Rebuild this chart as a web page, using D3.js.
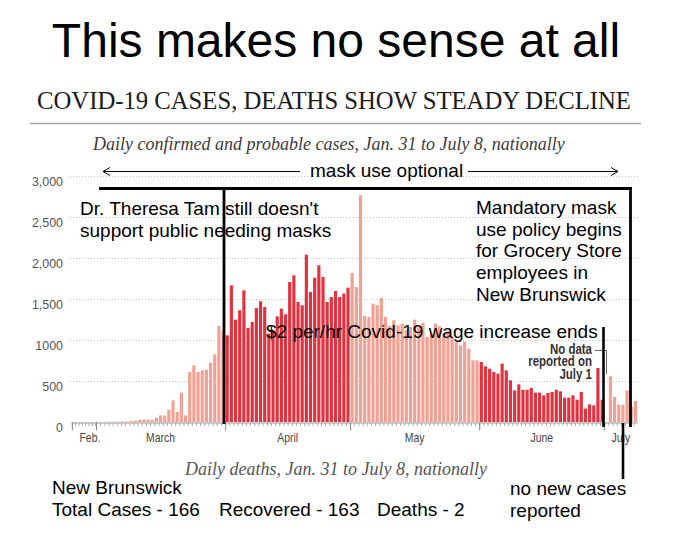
<!DOCTYPE html>
<html><head><meta charset="utf-8">
<script src="https://cdn.jsdelivr.net/npm/d3@7"></script>
<style>
html,body{margin:0;padding:0;background:#fff;}
svg{display:block;}
</style></head>
<body>
<svg id="c" width="677" height="551"></svg>
<script>
// ---- data (daily confirmed + probable cases, Canada) ----
const seriesStart = "2020-01-31";
const febCases = [0,0,0,0,0,0,0,0,0,0,0,0,0,0,0,0,0,0,0,0,0,0,0,0,0,0,0,0,0,0]; // Jan 31 - Feb 29
const marchCases = [2,1,3,3,4,5,8,6,10,15,25,28,28,25,50,80,80,150,264,122,358,81,610,691,610,630,638,724,825,1171,1110];
const aprilCases = [1057,1667,1248,1362,1606,1146,1220,1390,1472,1402,1077,1126,1289,1382,1313,1707,1789,1463,1423,2041,1585,1760,1911,1768,1463,1524,1598,1524,1565,1638];
const mayCases = [1817,1646,2764,1293,1280,1443,1423,1512,1280,1171,1240,1179,1199,1118,1159,1248,1171,1211,1037,1077,1199,1167,1077,1118,1037,976,935,976,894,752,752];
const juneCases = [732,679,650,610,589,711,630,508,386,459,394,394,415,358,358,325,354,366,394,374,297,297,325,272,366,163,215,203,659,272];
const julyCases = [null,557,305,211,211,386,190,256]; // July 1: no data
const yTicks = [0,500,1000,1500,2000,2500,3000];
const yTickLabels = ["0","500","1000","1,500","2,000","2,500","3,000"];
const monthStarts = ["2020-02-01","2020-03-01","2020-04-01","2020-05-01","2020-06-01","2020-07-01"];
const monthLabels = ["Feb.","March","April","May","June","July"];

const parse = d3.utcParse("%Y-%m-%d");
const allCases = [].concat(febCases, marchCases, aprilCases, mayCases, juneCases, julyCases);
const t0 = parse(seriesStart);
const days = allCases.map((v,i)=>({date:d3.utcDay.offset(t0,i), value:v}));
const tEnd = d3.utcDay.offset(t0, allCases.length);

const svg = d3.select("#c");
const sans = "Arial, 'Liberation Sans', sans-serif";
const serif = "'Liberation Serif', 'Times New Roman', serif";

// scales (February is compressed in the original graphic)
const x = d3.scaleUtc().domain([t0, parse("2020-03-01"), tEnd]).range([71, 96, 637.5]);
const y = d3.scaleLinear().domain([0,3000]).range([422,176]);

// condensed text helper (horizontal squeeze of Liberation Sans)
const condensed = (parent, x0, y0, txt, opts) => parent.append("text")
  .attr("transform",`translate(${x0},${y0}) scale(${opts.sx},1)`)
  .attr("text-anchor",opts.anchor).attr("font-family",sans)
  .attr("font-size",opts.size).attr("font-weight",opts.weight||"normal")
  .attr("fill",opts.fill).text(txt);

// big meme title
svg.append("text").attr("x",336).attr("y",57).attr("text-anchor","middle")
  .attr("font-family",sans).attr("font-size",48).attr("fill","#000")
  .text("This makes no sense at all");

// chart title
svg.append("text").attr("x",334).attr("y",109).attr("text-anchor","middle")
  .attr("font-family",serif).attr("font-size",24.7).attr("fill","#1a1a1a")
  .text("COVID-19 CASES, DEATHS SHOW STEADY DECLINE");
svg.append("line").attr("x1",30).attr("x2",641).attr("y1",123.5).attr("y2",123.5)
  .attr("stroke","#a8a8a8").attr("stroke-width",1.5);
svg.append("text").attr("x",329).attr("y",150).attr("text-anchor","middle")
  .attr("font-family",serif).attr("font-style","italic").attr("font-size",18).attr("fill","#3c3c3c")
  .text("Daily confirmed and probable cases, Jan. 31 to July 8, nationally");

// grid + y labels
const grid = svg.append("g");
grid.selectAll("line").data(yTicks.filter(d=>d>0)).join("line")
  .attr("x1",70).attr("x2",640).attr("y1",d=>Math.round(y(d))+0.5).attr("y2",d=>Math.round(y(d))+0.5)
  .attr("stroke","#c4c4c4").attr("stroke-dasharray","1,2");
const yl = svg.append("g");
yTicks.forEach((d,i)=>condensed(yl, 63, y(d)+9.5, yTickLabels[i], {sx:0.92, anchor:"end", size:13.5, fill:"#555"}));

// bars
const darkMonth = m => m===3 || m===5;
svg.append("g").selectAll("rect").data(days.filter(d=>d.value!=null)).join("rect")
  .attr("x",d=>x(d.date)+0.5)
  .attr("width",d=>Math.max(0, x(d3.utcDay.offset(d.date,1))-x(d.date)-1))
  .attr("y",d=>y(d.value))
  .attr("height",d=>y(0)-y(d.value))
  .attr("fill",d=>darkMonth(d.date.getUTCMonth()) ? "#e2323f" : "#f3a093");

// x axis
const minorTicks = d3.utcDay.every(4).range(parse("2020-02-01"), parse("2020-03-01"))
  .concat(d3.utcDay.range(parse("2020-03-01"), tEnd));
const majorTicks = monthStarts.map(parse);
const axMinor = svg.append("g").attr("transform","translate(0,422.5)")
  .call(d3.axisBottom(x).tickValues(minorTicks).tickSize(3.5).tickFormat("").tickSizeOuter(0));
axMinor.select(".domain").attr("stroke","#999");
axMinor.selectAll(".tick line").attr("stroke","#aaa");
const axMajor = svg.append("g").attr("transform","translate(0,422.5)")
  .call(d3.axisBottom(x).tickValues(majorTicks).tickSize(8).tickFormat("").tickSizeOuter(0));
axMajor.select(".domain").remove();
axMajor.selectAll(".tick line").attr("stroke","#888");

const monthEnds = majorTicks.slice(1).concat([tEnd]);
const ml = svg.append("g");
monthLabels.forEach((d,i)=>condensed(ml, (x(majorTicks[i])+x(monthEnds[i]))/2 + (i===0?6:0), 442, d,
  {sx:0.8, anchor:"middle", size:13, fill:"#444"}));

// "No data reported on July 1"
const nd = svg.append("g");
[["No data",353.5],["reported on",366],["July 1",378.5]].forEach(([t,yy])=>
  condensed(nd, 592, yy, t, {sx:0.82, anchor:"end", size:14, weight:"bold", fill:"#333"}));
svg.append("path").attr("d","M595,350.5H606.5V374").attr("fill","none").attr("stroke","#666").attr("stroke-width",1);

// annotations (meme overlay)
const blk = (x1,y1,x2,y2,w)=>svg.append("line").attr("x1",x1).attr("y1",y1).attr("x2",x2).attr("y2",y2)
  .attr("stroke","#000").attr("stroke-width",w);
// mask use optional arrows
blk(103,171.5,300,171.5,1);
blk(468,171.5,618,171.5,1);
svg.append("path").attr("d","M110,167.5L103,171.5L110,175.5").attr("fill","none").attr("stroke","#000").attr("stroke-width",1);
svg.append("path").attr("d","M611,167.5L618,171.5L611,175.5").attr("fill","none").attr("stroke","#000").attr("stroke-width",1);
svg.append("text").attr("x",310).attr("y",177).attr("font-family",sans).attr("font-size",19).text("mask use optional");
// bracket
blk(99,188.5,632,188.5,3);
blk(224,187,224,424,2.8);
blk(630.5,187,630.5,427,2.8);
blk(603.5,327,603.5,427,2.6);
blk(623,423,623,479,2.6);

const ann = (lines,x0,y0,lh)=>{
  const t = svg.append("text").attr("font-family",sans).attr("font-size",19).attr("fill","#000");
  lines.forEach((l,i)=>t.append("tspan").attr("x",x0).attr("y",y0+i*lh).text(l));
};
ann(["Dr. Theresa Tam still doesn't","support public needing masks"],80,215,22);
ann(["Mandatory mask","use policy begins","for Grocery Store","employees in","New Brunswick"],476,214,21.7);
ann(["$2 per/hr Covid-19 wage increase ends"],266,338,0);

// bottom
svg.append("text").attr("x",336).attr("y",475).attr("text-anchor","middle")
  .attr("font-family",serif).attr("font-style","italic").attr("font-size",18).attr("fill","#555")
  .text("Daily deaths, Jan. 31 to July 8, nationally");
ann(["New Brunswick"],52,494,0);
ann(["Total Cases - 166"],52,516,0);
ann(["Recovered - 163"],219,516,0);
ann(["Deaths - 2"],377,516,0);
ann(["no new cases","reported"],510,495,22);
</script>
</body></html>
